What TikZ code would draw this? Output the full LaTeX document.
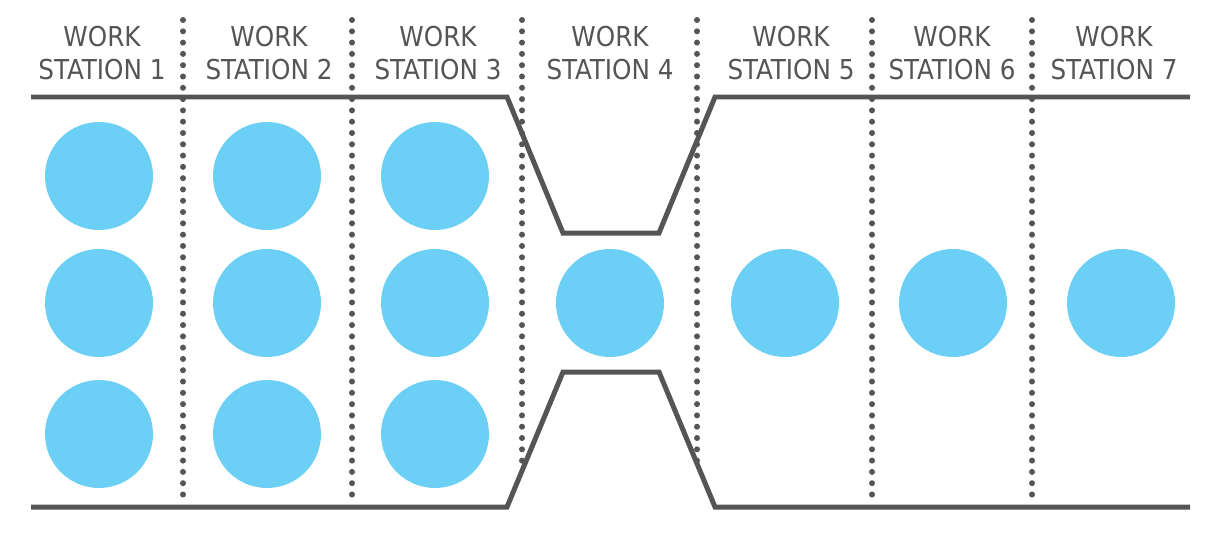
\documentclass[tikz,border=0pt]{standalone}
\usepackage{fontspec}
\usepackage{tikz}
\newfontfamily\labelfont{DejaVu Sans Condensed}
\definecolor{linegray}{RGB}{85,85,85}
\definecolor{dotblue}{RGB}{108,207,246}
\tikzset{
  station/.style={font=\labelfont\fontsize{15.6pt}{18.8pt}\selectfont, text=linegray, align=center, inner sep=0pt},
  part/.style={circle, fill=dotblue, minimum size=2.16cm, inner sep=0pt},
  wall/.style={draw=linegray, line width=0.1cm, line join=miter},
  divider/.style={draw=linegray, line width=0.12cm, line cap=round, dash pattern=on 0pt off 0.226cm}
}

\begin{document}
\begin{tikzpicture}[x=0.02cm, y=-0.02cm]
    \useasboundingbox (0,0) rectangle (1212,537);

    % Draw dividers
    \draw[divider] (183,20) -- (183,505);
    \draw[divider] (352,20) -- (352,505);
    \draw[divider] (522,20) -- (522,471);
    \draw[divider] (697,20) -- (697,461);
    \draw[divider] (872,20) -- (872,505);
    \draw[divider] (1032,20) -- (1032,505);

    % Draw labels
    \node[station] (s1) at (102,53.5) {WORK\\STATION 1};
    \node[station] (s2) at (269,53.5) {WORK\\STATION 2};
    \node[station] (s3) at (438,53.5) {WORK\\STATION 3};
    \node[station] (s4) at (610,53.5) {WORK\\STATION 4};
    \node[station] (s5) at (791,53.5) {WORK\\STATION 5};
    \node[station] (s6) at (952,53.5) {WORK\\STATION 6};
    \node[station] (s7) at (1114,53.5) {WORK\\STATION 7};

    % Draw parts
    \node[part] (p11) at (99,176) {};
    \node[part] (p12) at (99,303) {};
    \node[part] (p13) at (99,434) {};
    \node[part] (p21) at (267,176) {};
    \node[part] (p22) at (267,303) {};
    \node[part] (p23) at (267,434) {};
    \node[part] (p31) at (435,176) {};
    \node[part] (p32) at (435,303) {};
    \node[part] (p33) at (435,434) {};
    \node[part] (p4) at (610,303) {};
    \node[part] (p5) at (785,303) {};
    \node[part] (p6) at (953,303) {};
    \node[part] (p7) at (1121,303) {};

    % Draw walls
    \draw[wall] (31,97) -- (507,97) -- (563,233) -- (659,233) -- (715,97) -- (1190,97);
    \draw[wall] (31,507) -- (507,507) -- (563,372) -- (659,372) -- (715,507) -- (1190,507);
\end{tikzpicture}
\end{document}
